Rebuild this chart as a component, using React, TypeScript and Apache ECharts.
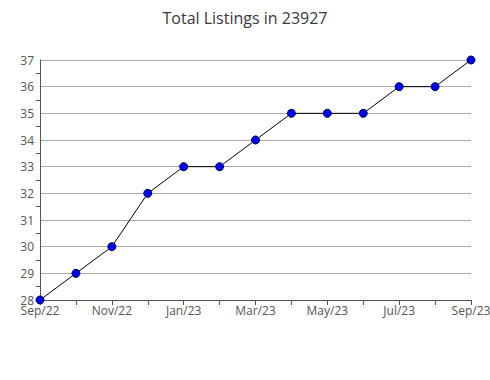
import React, { useEffect, useRef } from "react";
import * as echarts from "echarts";

const months = ["Sep/22","Oct/22","Nov/22","Dec/22","Jan/23","Feb/23","Mar/23","Apr/23","May/23","Jun/23","Jul/23","Aug/23","Sep/23"];
const listings = [28, 29, 30, 32, 33, 33, 34, 35, 35, 35, 36, 36, 37];
const title = "Total Listings in 23927";

export default function App() {
  const ref = useRef<HTMLDivElement>(null);
  useEffect(() => {
    const chart = echarts.init(ref.current!, null, { renderer: "svg" });
    chart.setOption({
      animation: false,
      title: {
        text: title,
        left: "center",
        top: 5,
        textStyle: { fontFamily: "Open Sans", fontSize: 16, fontWeight: "normal", color: "#3a3a3a" },
      },
      grid: { left: 40, right: 19, top: 60, bottom: 80, containLabel: false, outerBoundsMode: "none" },
      xAxis: {
        type: "category",
        boundaryGap: false,
        data: months,
        axisLine: { lineStyle: { color: "#555" } },
        axisTick: { show: true, length: 5, lineStyle: { color: "#555" }, interval: 0 },
        axisLabel: {
          interval: 1,
          fontFamily: "Open Sans",
          fontSize: 12,
          color: "#555",
          margin: 4,
          hideOverlap: false,
        },
      },
      yAxis: {
        type: "value",
        min: 28,
        max: 37,
        interval: 1,
        axisLine: { show: true, lineStyle: { color: "#555" } },
        axisTick: { show: false },
        minorTick: { show: true, splitNumber: 2, length: 4, lineStyle: { color: "#555" } },
        splitLine: { show: true, lineStyle: { color: "#aaa", width: 1 } },
        axisLabel: { fontFamily: "Open Sans", fontSize: 12, color: "#555", margin: 6 },
      },
      series: [
        {
          type: "line",
          data: listings,
          symbol: "circle",
          symbolSize: 8,
          lineStyle: { color: "#000", width: 1 },
          itemStyle: { color: "#0000ff", borderColor: "#000033", borderWidth: 1 },
        },
      ],
    });
    return () => chart.dispose();
  }, []);
  return <div ref={ref} style={{ width: 490, height: 380, position: "absolute", left: 0, top: 0 }} />;
}
